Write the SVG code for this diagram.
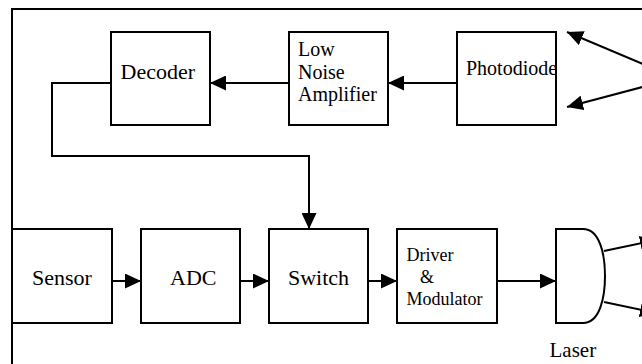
<svg xmlns="http://www.w3.org/2000/svg" width="642" height="364" viewBox="0 0 642 364">
<style>
.box{fill:#fff;stroke:#000;stroke-width:2}
.frame{fill:none;stroke:#000;stroke-width:2}
.conn{fill:none;stroke:#000;stroke-width:2}
.t{font-family:"Liberation Serif","Times New Roman",serif;fill:#000}
.big{font-size:22px}
.mid{font-size:20px}
.sm{font-size:18px}
</style>
<defs>
<marker id="ah" markerUnits="userSpaceOnUse" markerWidth="16" markerHeight="15" refX="16" refY="7.5" orient="auto">
<path d="M0,0 L16,7.5 L0,15 Z" fill="#000"/>
</marker>
</defs>
<rect width="642" height="364" fill="#fff"/>
<g id="frame">
<path class="frame" d="M12,366 V9 H644"/>
</g>
<g id="decoder">
<rect class="box" x="111" y="32" width="99" height="93"/>
<text class="t big" x="120.5" y="79">Decoder</text>
</g>
<g id="lna">
<rect class="box" x="289" y="32" width="99" height="93"/>
<text class="t mid" x="298" y="56">Low</text>
<text class="t mid" x="298" y="78.5">Noise</text>
<text class="t mid" x="298" y="101">Amplifier</text>
</g>
<g id="photodiode">
<rect class="box" x="457" y="32" width="99" height="93"/>
<text class="t mid" x="466" y="75">Photodiode</text>
</g>
<g id="sensor">
<rect class="box" x="12" y="229" width="100" height="94"/>
<text class="t big" x="32" y="285">Sensor</text>
</g>
<g id="adc">
<rect class="box" x="141" y="229" width="99" height="94"/>
<text class="t big" x="170" y="285">ADC</text>
</g>
<g id="switch">
<rect class="box" x="269" y="229" width="99" height="94"/>
<text class="t big" x="288" y="285">Switch</text>
</g>
<g id="driver">
<rect class="box" x="397" y="229" width="100" height="94"/>
<text class="t sm" x="406.5" y="260.5">Driver</text>
<text class="t sm" x="420" y="283">&amp;</text>
<text class="t sm" x="406.5" y="304.5">Modulator</text>
</g>
<g id="laser">
<path class="box" d="M556,229 H583 C600,229 605,255 605,276 C605,297 600,323 583,323 H556 Z"/>
<text class="t" font-size="21" x="549.5" y="356.5">Laser</text>
</g>
<g id="connectors">
<path class="conn" d="M457,83 H388" marker-end="url(#ah)"/>
<path class="conn" d="M289,83 H210" marker-end="url(#ah)"/>
<path class="conn" d="M111,83 H52 V156 H309 V229" marker-end="url(#ah)"/>
<path class="conn" d="M112,281 H141" marker-end="url(#ah)"/>
<path class="conn" d="M240,281 H269" marker-end="url(#ah)"/>
<path class="conn" d="M368,281 H397" marker-end="url(#ah)"/>
<path class="conn" d="M497,281 H556" marker-end="url(#ah)"/>
<path class="conn" d="M650,67 L567,32" marker-end="url(#ah)"/>
<path class="conn" d="M650,85 L567,107" marker-end="url(#ah)"/>
<path class="conn" d="M604,251 L656,240" marker-end="url(#ah)"/>
<path class="conn" d="M604,302 L656,313" marker-end="url(#ah)"/>
</g>
</svg>
